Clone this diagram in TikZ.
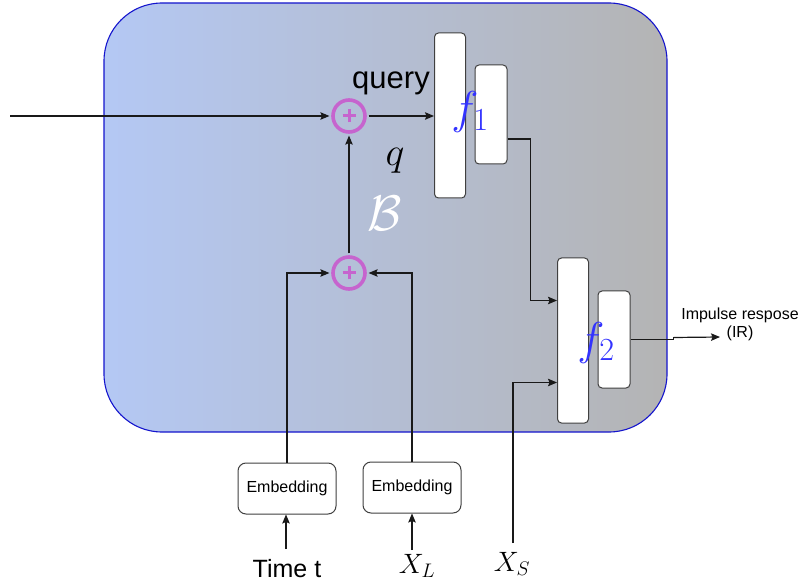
\RequirePackage{fix-cm}
\documentclass[tikz,border=0pt]{standalone}
\usepackage{fontspec}
\setmainfont{Liberation Sans}
\usetikzlibrary{arrows.meta}
\definecolor{bgleft}{RGB}{180,200,244}
\definecolor{bgright}{RGB}{180,180,180}
\definecolor{bgborder}{RGB}{20,20,205}
\definecolor{ring}{RGB}{198,100,206}
\definecolor{fblue}{RGB}{51,51,255}
\definecolor{lin}{RGB}{25,25,25}
\tikzset{
  arr/.style={draw=lin, line width=1.2pt, -{Stealth[length=9pt,width=7.5pt,inset=1.5pt]}},
  ln/.style={draw=lin, line width=1.2pt},
  sumnode/.style={circle, draw=ring, line width=3.6pt, minimum size=32pt, inner sep=0pt},
  plusbar/.style={draw=ring, line width=3pt},
  blk/.style={rectangle, draw=black!75, line width=1pt, fill=white, rounded corners=4pt, inner sep=0pt},
  embbox/.style={rectangle, draw=black!75, line width=1pt, fill=white, rounded corners=8pt,
     minimum width=98pt, minimum height=51pt, inner sep=0pt, font=\fontsize{16}{18}\selectfont},
}
\begin{document}
\begin{tikzpicture}[x=1pt,y=-1pt]
\useasboundingbox (0,0) rectangle (803,585);
% background panel
\shade[left color=bgleft, right color=bgright, rounded corners=58pt] (104,3) rectangle (667,432);
\draw[bgborder, line width=1.1pt, rounded corners=58pt] (104,3) rectangle (667,432);

% sum nodes
\node[sumnode] (c1) at (349,116) {};
\node[sumnode] (c2) at (349,273) {};
\foreach \c in {c1,c2}{
  \draw[plusbar] ([xshift=-6.5pt]\c.center) -- ([xshift=6.5pt]\c.center);
  \draw[plusbar] ([yshift=-6.5pt]\c.center) -- ([yshift=6.5pt]\c.center);
}

% blocks
\node[blk, minimum width=31pt, minimum height=165pt] (f1a) at (450,115.5) {};
\node[blk, minimum width=32pt, minimum height=99pt] (f1b) at (491,114.5) {};
\node[blk, minimum width=31pt, minimum height=165pt] (f2a) at (573,340.5) {};
\node[blk, minimum width=32pt, minimum height=97pt] (f2b) at (614,339.5) {};

\node[embbox] (e1) at (287,488.5) {Embedding};
\node[embbox] (e2) at (412,487.5) {Embedding};

% labels
\node[anchor=base, inner sep=0pt, font=\fontsize{31}{31}\selectfont] (query) at (391,89) {query};
\node[anchor=base, inner sep=0pt, font=\fontsize{40}{40}\selectfont] (qlab) at (395,166) {$q$};
\node[anchor=base, inner sep=0pt, text=white, font=\fontsize{50}{50}\selectfont] (blab) at (385,231) {$\mathcal{B}$};
\node[anchor=base, inner sep=0pt, text=fblue, font=\fontsize{46}{46}\selectfont] (f1lab) at (470,124) {$f_1$};
\node[anchor=base, inner sep=0pt, text=fblue, font=\fontsize{46}{46}\selectfont] (f2lab) at (596,354) {$f_2$};
\node[anchor=base, inner sep=0pt, font=\fontsize{25}{25}\selectfont] (tlab) at (287,577) {Time t};
\node[anchor=base, inner sep=0pt, font=\fontsize{28}{28}\selectfont] (xl) at (417,573) {$X_L$};
\node[anchor=base, inner sep=0pt, font=\fontsize{28}{28}\selectfont] (xs) at (512,571) {$X_S$};
\node[align=center, inner sep=0pt, font=\fontsize{16}{18}\selectfont] (ir) at (740,324) {Impulse respose\\(IR)};

% coordinates for free ends
\coordinate (in) at (10,116);
\coordinate (tb) at (286,549);
\coordinate (xlb) at (412,550);
\coordinate (xsb) at (513,543);
\coordinate (irin) at (720,337);

% connectors
\draw[arr, shorten >=1.8pt] (in) -- (c1.west);
\draw[arr, shorten <=1.8pt] (c1.east) -- (c1.east -| f1a.west);
\draw[arr, shorten <=1.8pt, shorten >=1.8pt] (c2.north) -- (c1.south);
\draw[arr, shorten >=1.8pt] (e1.north) |- (c2.west);
\draw[arr, shorten >=1.8pt] (e2.north) |- (c2.east);
\draw[arr] ([yshift=-24.5pt]f1b.east) -- ++(23,0) |- ([yshift=40pt]f2a.west);
\draw[arr] (xsb) |- ([yshift=-42pt]f2a.west);
\draw[ln] (f2b.east) -- ++(43,0) -- ++(0,-2) -- ++(2,0);
\draw[arr] ([xshift=43pt,yshift=2pt]f2b.east) -- (irin);
\draw[arr] (tb) -- (tb |- e1.south);
\draw[arr] (xlb) -- (xlb |- e2.south);
\end{tikzpicture}
\end{document}
